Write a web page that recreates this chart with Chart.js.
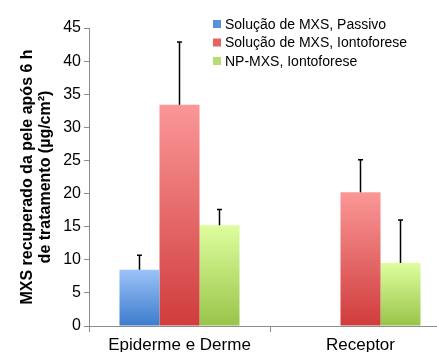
<!DOCTYPE html>
<html>
<head>
<meta charset="utf-8">
<script src="https://cdn.jsdelivr.net/npm/chart.js@4"></script>
<style>
  html, body { margin: 0; padding: 0; overflow: hidden; background: #fff; }
</style>
</head>
<body>
<canvas id="myChart" width="460" height="352"></canvas>
<script>
const categories = ['Epiderme e Derme', 'Receptor'];
const seriesNames = ['Solução de MXS, Passivo', 'Solução de MXS, Iontoforese', 'NP-MXS, Iontoforese'];
const passivo = [8.5, null];
const passivoErr = [2.2, null];
const iontoforese = [33.4, 20.2];
const iontoforeseErr = [9.5, 4.9];
const npMxs = [15.2, 9.5];
const npMxsErr = [2.4, 6.5];
const yTicks = [0, 5, 10, 15, 20, 25, 30, 35, 40, 45];

const FONT = "'Liberation Sans', Arial, sans-serif";
const axisGray = '#8c8c8c';

// vertical gradient per bar, light on top, dark at the base
function barGradient(top, bottom) {
   return function (context) {
      const chart = context.chart;
      if (!chart.chartArea || context.raw == null) return bottom;
      const y = chart.scales.y;
      const g = chart.ctx.createLinearGradient(0, y.getPixelForValue(context.raw), 0, y.getPixelForValue(0));
      g.addColorStop(0, top);
      g.addColorStop(1, bottom);
      return g;
   };
}

const errorBars = {
   id: 'errorBars',
   afterDatasetsDraw(chart) {
      const ctx = chart.ctx;
      const y = chart.scales.y;
      chart.data.datasets.forEach((ds, i) => {
         chart.getDatasetMeta(i).data.forEach((bar, j) => {
            const v = ds.data[j], e = ds.errors[j];
            if (v == null || e == null) return;
            const yTop = y.getPixelForValue(v + e);
            ctx.save();
            ctx.strokeStyle = '#000';
            ctx.lineWidth = 1.5;
            ctx.beginPath();
            ctx.moveTo(bar.x, bar.y);
            ctx.lineTo(bar.x, yTop);
            ctx.moveTo(bar.x - 2.5, yTop);
            ctx.lineTo(bar.x + 2.5, yTop);
            ctx.stroke();
            ctx.restore();
         });
      });
   }
};

// legend drawn inside the plot, top right
const boxLegend = {
   id: 'boxLegend',
   afterDraw(chart) {
      const ctx = chart.ctx;
      ctx.save();
      ctx.font = '14px ' + FONT;
      ctx.textBaseline = 'middle';
      chart.data.datasets.forEach((ds, i) => {
         const cy = 24 + i * 18.5;
         ctx.fillStyle = ds.legendColor;
         ctx.fillRect(213, cy - 4, 8, 8);
         ctx.fillStyle = '#000';
         ctx.fillText(ds.label, 225, cy + 1);
      });
      ctx.restore();
   }
};

const ctx = document.getElementById('myChart');

new Chart(ctx, {
   type: 'bar',
   data: {
      labels: categories,
      datasets: [
         { label: seriesNames[0], data: passivo, errors: passivoErr,
           backgroundColor: barGradient('#9cc3f8', '#3c7bcc'), legendColor: '#5b90da' },
         { label: seriesNames[1], data: iontoforese, errors: iontoforeseErr,
           backgroundColor: barGradient('#fb9797', '#d03c3c'), legendColor: '#e36464' },
         { label: seriesNames[2], data: npMxs, errors: npMxsErr,
           backgroundColor: barGradient('#defe9e', '#98c449'), legendColor: '#b6dc72' }
      ]
   },
   plugins: [errorBars, boxLegend],
   options: {
      responsive: false,
      animation: false,
      categoryPercentage: 0.663,
      barPercentage: 1.0,
      layout: { padding: { left: 0, top: 28, right: 9, bottom: 0 } },
      plugins: {
         legend: { display: false },
         tooltip: { enabled: false }
      },
      scales: {
         x: {
            afterFit: s => { s.height = 26; },
            border: { color: axisGray, width: 1 },
            grid: { offset: true, drawOnChartArea: false, color: axisGray, tickLength: 6 },
            ticks: { color: '#000', font: { family: FONT, size: 17 }, padding: 3 }
         },
         y: {
            min: 0,
            max: 45,
            afterFit: s => { s.width = 89; },
            afterBuildTicks: s => { s.ticks = yTicks.map(v => ({ value: v })); },
            border: { color: axisGray, width: 1 },
            grid: { drawOnChartArea: false, color: axisGray, tickLength: 5 },
            ticks: { color: '#000', font: { family: FONT, size: 16 }, padding: 3 },
            title: {
               display: true,
               text: ['MXS recuperado da pele após 6 h', 'de tratamento (µg/cm²)'],
               color: '#000',
               font: { family: FONT, size: 16, weight: 'bold', lineHeight: 1.15 },
               padding: { top: 18, bottom: 0 }
            }
         }
      }
   }
});
</script>
</body>
</html>
